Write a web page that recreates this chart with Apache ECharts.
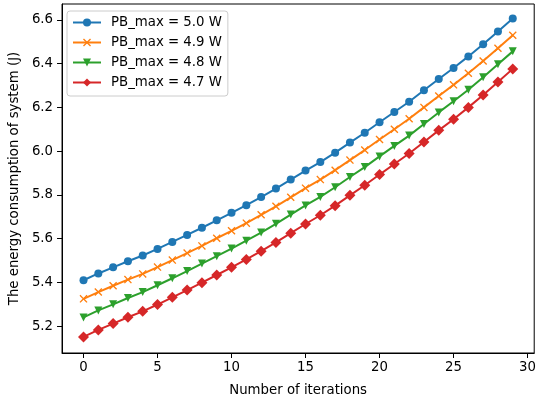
<!DOCTYPE html>
<html>
<head>
<meta charset="utf-8">
<script src="https://cdn.jsdelivr.net/npm/echarts@6/dist/echarts.min.js"></script>
<style>html,body{margin:0;padding:0;background:#fff;}#c{width:539px;height:402px;}</style>
</head>
<body>
<div id="c"></div>
<script>
const iterations = [0,1,2,3,4,5,6,7,8,9,10,11,12,13,14,15,16,17,18,19,20,21,22,23,24,25,26,27,28,29];
const seriesNames = ['PB_max = 5.0 W','PB_max = 4.9 W','PB_max = 4.8 W','PB_max = 4.7 W'];
const pb50 = [5.410,5.441,5.469,5.497,5.523,5.553,5.585,5.617,5.650,5.684,5.718,5.753,5.790,5.829,5.870,5.911,5.950,5.993,6.039,6.084,6.132,6.179,6.226,6.278,6.330,6.380,6.433,6.489,6.547,6.606];
const pb49 = [5.325,5.356,5.385,5.413,5.439,5.470,5.502,5.534,5.567,5.602,5.636,5.671,5.709,5.748,5.789,5.831,5.870,5.913,5.959,6.005,6.053,6.100,6.148,6.200,6.252,6.303,6.356,6.412,6.470,6.530];
const pb48 = [5.240,5.272,5.300,5.329,5.356,5.387,5.419,5.452,5.486,5.520,5.555,5.591,5.628,5.668,5.710,5.752,5.791,5.835,5.882,5.927,5.976,6.024,6.071,6.124,6.177,6.228,6.281,6.338,6.397,6.456];
const pb47 = [5.151,5.183,5.212,5.241,5.268,5.299,5.332,5.365,5.399,5.434,5.469,5.505,5.543,5.583,5.625,5.667,5.707,5.751,5.798,5.844,5.893,5.941,5.989,6.042,6.095,6.146,6.200,6.257,6.316,6.376];
const xTicks = [0,5,10,15,20,25,30];
const yTicks = [5.2,5.4,5.6,5.8,6.0,6.2,6.4,6.6];
const xLabel = 'Number of iterations';
const yLabel = 'The energy consumption of system (J)';

const colors = ['#1f77b4','#ff7f0e','#2ca02c','#d62728'];
const xShape = 'path://M0,1.2L1.2,0L5,3.8L8.8,0L10,1.2L6.2,5L10,8.8L8.8,10L5,6.2L1.2,10L0,8.8L3.8,5Z';
const symbols = ['circle', xShape, 'triangle', 'diamond'];
const symSizes = [8, 8, 8, 11];
const symRot = [0, 0, 180, 0];
const allData = [pb50, pb49, pb48, pb47];
const FONT = 'DejaVu Sans';
const FS = 13.3;

const chart = echarts.init(document.getElementById('c'), null, {renderer:'canvas'});
chart.setOption({
  animation: false,
  backgroundColor: '#fff',
  grid: {left: 61, top: 4, width: 476, height: 354, show: true, borderColor: '#000', borderWidth: 1, backgroundColor: 'transparent'},
  legend: {
    orient: 'vertical', left: 67, top: 11,
    data: seriesNames,
    itemWidth: 28, itemHeight: 10, itemGap: 5,
    padding: [4, 6, 6, 5],
    backgroundColor: 'rgba(255,255,255,0.8)',
    borderColor: '#cccccc', borderWidth: 1, borderRadius: 3,
    textStyle: {fontFamily: FONT, fontSize: FS, color: '#000', lineHeight: 15, padding: [0,0,0,5]}
  },
  xAxis: {
    type: 'value', min: -1.45, max: 30.45,
    name: xLabel, nameLocation: 'middle', nameGap: 31,
    nameTextStyle: {fontFamily: FONT, fontSize: FS, color: '#000'},
    axisLine: {show: true, onZero: false, lineStyle: {color: '#000', width: 1}},
    axisTick: {show: true, inside: false, length: 5, lineStyle: {color: '#000'}, customValues: xTicks},
    axisLabel: {fontFamily: FONT, fontSize: FS, color: '#000', margin: 8, customValues: xTicks, formatter: v => String(v)},
    splitLine: {show: false}
  },
  yAxis: {
    type: 'value', min: 5.0775, max: 6.6725,
    name: yLabel, nameLocation: 'middle', nameGap: 39,
    nameTextStyle: {fontFamily: FONT, fontSize: FS, color: '#000'},
    axisLine: {show: true, onZero: false, lineStyle: {color: '#000', width: 1}},
    axisTick: {show: true, inside: false, length: 5, lineStyle: {color: '#000'}, customValues: yTicks},
    axisLabel: {fontFamily: FONT, fontSize: FS, color: '#000', margin: 9, customValues: yTicks, formatter: v => v.toFixed(1)},
    splitLine: {show: false}
  },
  series: allData.map((arr, k) => ({
    name: seriesNames[k],
    type: 'line',
    data: iterations.map((x, i) => [x, arr[i]]),
    symbol: symbols[k],
    symbolSize: symSizes[k],
    symbolRotate: symRot[k],
    showAllSymbol: true,
    color: colors[k],
    lineStyle: {color: colors[k], width: 2},
    itemStyle: {color: colors[k]},
    z: 2 + k
  }))
});
</script>
</body>
</html>
